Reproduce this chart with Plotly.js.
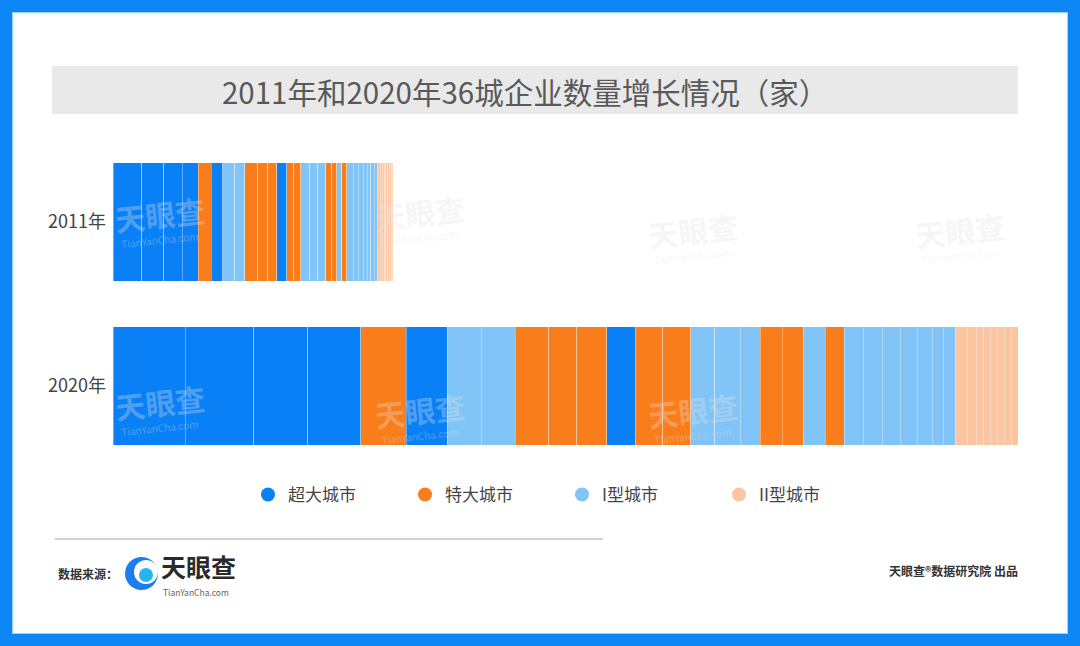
<!DOCTYPE html>
<html>
<head>
<meta charset="utf-8">
<script src="https://cdn.plot.ly/plotly-3.0.1.min.js"></script>
<style>
  html, body { margin: 0; padding: 0; background: #fff; }
  #wrap { position: relative; width: 1080px; height: 646px; overflow: hidden; }
  #chart { width: 1080px; height: 646px; }
  #frame { position: absolute; left: 0; top: 0; width: 1080px; height: 646px; box-sizing: border-box;
           border: 12px solid #0d86f6; pointer-events: none; box-shadow: inset 0 0 0 1px #8fd3ff; }
</style>
</head>
<body>
<div id="wrap"><div id="chart"></div><div id="frame"></div></div>
<script>
// ---- data (万家) ----
const years = ['2011年', '2020年'];
const typeNames = ['超大城市', '特大城市', 'I型城市', 'II型城市'];
const typeColors = ['#0a80f6', '#fa7d1b', '#80c4f8', '#fcc5a2'];
// city type of each of the 36 cities, in bar order (0 超大, 1 特大, 2 I型, 3 II型)
const cityType = [0,0,0,0,1,0,2,2,1,1,1,0,1,1,2,2,2,1,1,2,1,2,2,2,2,2,2,2,3,3,3,3,3,3,3,3];
const values2011 = [75,57,47,42,34,29,31,26,34,26,23,26,18,18,23,21,21,16,13,13,13,16,13,13,10,10,8,8,8,5,5,5,5,5,5,3];
const values2020 = [187,177,140,138,117,107,88,88,86,73,78,75,70,73,62,65,52,57,55,57,49,49,49,47,44,39,29,31,31,23,18,18,18,18,18,18];

// ---- geometry helpers (pixel -> paper) ----
const L = 113, R = 1018, T = 140, B = 468;
const px = x => (x - L) / (R - L);
const py = y => (B - y) / (B - T);

const traces = [];
cityType.forEach((t, i) => {
  traces.push({
    type: 'bar', orientation: 'h',
    y: years, x: [values2011[i], values2020[i]],
    marker: { color: typeColors[t], line: { color: 'rgba(255,255,255,0.35)', width: 1 } },
    showlegend: false, hoverinfo: 'x+y', name: typeNames[t]
  });
});
typeNames.forEach((n, t) => {
  traces.push({
    type: 'scatter', mode: 'markers', x: [null], y: [null], name: n,
    marker: { color: typeColors[t], size: 14, symbol: 'circle' }, showlegend: true
  });
});

const total2020 = values2020.reduce((a, b) => a + b, 0);
const font = '"Noto Sans CJK SC", "Noto Sans", sans-serif';

const wm = [];
[[160,214],[420,212],[693,230],[960,230],[160,402],[420,410],[693,410]].forEach(([x,y]) => {
  wm.push({ xref:'paper', yref:'paper', x: px(x), y: py(y), text:'<b>天眼查</b>', showarrow:false,
    font:{ family: font, size: 30, color:'rgba(228,228,228,0.33)' }, textangle:-6, xanchor:'center', yanchor:'middle' });
  wm.push({ xref:'paper', yref:'paper', x: px(x), y: py(y+25), text:'TianYanCha.com', showarrow:false,
    font:{ family: font, size: 10, color:'rgba(228,228,228,0.33)' }, textangle:-6, xanchor:'center', yanchor:'middle' });
});

const layout = {
  width: 1080, height: 646,
  margin: { l: L, r: 1080 - R, t: T, b: 646 - B, pad: 0 },
  paper_bgcolor: '#ffffff', plot_bgcolor: 'rgba(0,0,0,0)',
  barmode: 'stack', bargap: 0.28,
  font: { family: font, color: '#444' },
  xaxis: { range: [0, total2020], visible: false, fixedrange: true },
  yaxis: { type: 'category', autorange: 'reversed', showgrid: false, zeroline: false, showline: false,
           ticks: '', ticklabelstandoff: 6, tickfont: { family: font, size: 18, color: '#444' } },
  showlegend: true,
  legend: { orientation: 'h', traceorder: 'normal', x: px(248), xanchor: 'left', y: py(495), yanchor: 'middle',
            font: { family: font, size: 17, color: '#444' }, entrywidth: 112, entrywidthmode: 'pixels',
            bgcolor: 'rgba(0,0,0,0)', itemclick: false },
  shapes: [
    { type:'rect', xref:'paper', yref:'paper', x0: px(52), x1: px(1018), y0: py(114), y1: py(66),
      fillcolor:'#e9e9e9', line:{ width:0 }, layer:'below' },
    { type:'line', xref:'paper', yref:'paper', x0: px(55), x1: px(603), y0: py(539), y1: py(539),
      line:{ color:'#d2d2d2', width:2 } },
    { type:'circle', xref:'paper', yref:'paper', x0: px(125), x1: px(158), y0: py(590), y1: py(557),
      fillcolor:'#1a7ef0', line:{ width:0 } },
    { type:'circle', xref:'paper', yref:'paper', x0: px(134), x1: px(158), y0: py(584), y1: py(560),
      fillcolor:'#ffffff', line:{ width:0 } },
    { type:'circle', xref:'paper', yref:'paper', x0: px(139), x1: px(153), y0: py(582), y1: py(568),
      fillcolor:'#25b4f0', line:{ width:0 } }
  ],
  annotations: wm.concat([
    { xref:'paper', yref:'paper', x: px(525), y: py(91), text:'2011年和2020年36城企业数量增长情况（家）',
      showarrow:false, xanchor:'center', yanchor:'middle', font:{ family: font, size: 29.5, color:'#595959' } },
    { xref:'paper', yref:'paper', x: px(56), y: py(573), text:'<b>数据来源：</b>', showarrow:false,
      xanchor:'left', yanchor:'middle', font:{ family: font, size: 12, color:'#333' } },
    { xref:'paper', yref:'paper', x: px(159), y: py(566), text:'<b>天眼查</b>', showarrow:false,
      xanchor:'left', yanchor:'middle', font:{ family: font, size: 25, color:'#2a2a2a' } },
    { xref:'paper', yref:'paper', x: px(161), y: py(592), text:'TianYanCha.com', showarrow:false,
      xanchor:'left', yanchor:'middle', font:{ family: font, size: 8.5, color:'#666' } },
    { xref:'paper', yref:'paper', x: px(1020), y: py(570), text:'<b>天眼查®数据研究院 出品</b>', showarrow:false,
      xanchor:'right', yanchor:'middle', font:{ family: font, size: 12, color:'#333' } }
  ])
};

Plotly.newPlot('chart', traces, layout, { displayModeBar: false, staticPlot: true });
</script>
</body>
</html>
